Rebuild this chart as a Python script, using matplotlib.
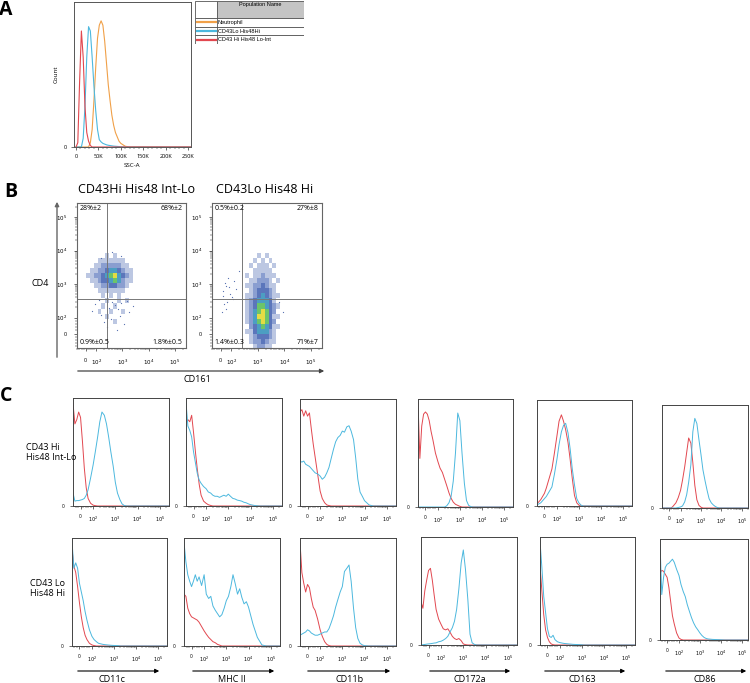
import matplotlib
matplotlib.use('Agg')
import numpy as np
import matplotlib.pyplot as plt
from matplotlib.colors import ListedColormap
from matplotlib.patches import Rectangle, FancyArrowPatch

plt.rcParams['font.family'] = ['Open Sans', 'DejaVu Sans']

# ---------------- data ----------------
# panel A: SSC-A histograms (x in thousands)
ssc_k = [0, 4, 8, 12, 16, 20, 24, 28, 32, 36, 40, 44, 48, 52, 56, 60, 64, 68, 72, 76,
         80, 84, 88, 92, 96, 100, 105, 110, 120, 262]
ssc_neutrophil = [0, 0, 0, 0, 0, 0, 0, 0, 0.03, 0.12, 0.32, 0.55, 0.75, 0.84, 0.87, 0.84, 0.73, 0.58, 0.43, 0.32,
                  0.22, 0.15, 0.10, 0.07, 0.04, 0.025, 0.015, 0.005, 0, 0]
ssc_cd43lo = [0, 0, 0, 0, 0.06, 0.28, 0.62, 0.83, 0.80, 0.62, 0.42, 0.25, 0.12, 0.05, 0.035, 0.025, 0.02, 0.015, 0.012, 0.01,
              0.008, 0.006, 0.005, 0.004, 0.003, 0.002, 0.001, 0, 0, 0]
ssc_cd43hi = [0, 0.03, 0.45, 0.80, 0.62, 0.28, 0.10, 0.04, 0.01, 0, 0, 0, 0, 0, 0, 0, 0, 0, 0, 0,
              0, 0, 0, 0, 0, 0, 0, 0, 0, 0]
populations = ['Neutrophil', 'CD43Lo His48Hi', 'CD43 Hi His48 Lo-Int']

# panel B: CD161 vs CD4 density (counts level per cell), rows listed top to bottom
left_x_edges = [0, 37, 75, 112, 158, 224, 316, 447, 631, 891, 1259, 1778, 2512, 3548]
left_y_edges = [11749, 8318, 5888, 4169, 2951, 2089, 1479, 1047, 741, 525, 372, 263, 186, 132, 94, 62]
left_density = [
    [0, 0, 0, 0, 0, 0, 0, 0, 0, 0, 0, 0, 0],
    [0, 0, 0, 0, 0, 1, 0, 1, 0, 0, 0, 0, 0],
    [0, 0, 0, 1, 1, 1, 1, 1, 1, 1, 0, 0, 0],
    [0, 0, 1, 1, 2, 2, 2, 2, 2, 1, 1, 0, 0],
    [0, 1, 1, 2, 2, 3, 4, 4, 3, 2, 1, 1, 0],
    [1, 1, 2, 2, 3, 4, 5, 6, 4, 3, 2, 1, 0],
    [0, 1, 1, 2, 3, 3, 4, 5, 4, 2, 1, 1, 0],
    [0, 0, 1, 1, 2, 2, 3, 3, 2, 2, 1, 0, 0],
    [0, 0, 0, 1, 1, 1, 1, 1, 1, 1, 0, 0, 0],
    [0, 0, 0, 0, 1, 0, 1, 0, 1, 0, 0, 0, 0],
    [0, 0, 0, 0, 0, 1, 0, 0, 1, 0, 1, 0, 0],
    [0, 0, 0, 0, 1, 0, 0, 1, 0, 0, 0, 0, 0],
    [0, 0, 0, 1, 0, 0, 1, 0, 0, 1, 0, 0, 0],
    [0, 0, 0, 0, 0, 1, 0, 0, 0, 0, 0, 0, 0],
    [0, 0, 0, 0, 0, 0, 0, 1, 0, 0, 0, 0, 0],
]
left_dots_x = [90, 150, 400, 700, 1100, 260, 520, 1800, 130, 350, 900, 2500, 60, 620, 300, 1500, 200, 800, 400, 900, 150]
left_dots_y = [250, 120, 300, 180, 60, 40, 240, 150, 330, 90, 280, 220, 160, 20, 190, 320, 70, 110, 9000, 7000, 6000]

right_x_edges = [316, 447, 631, 891, 1259, 1778, 2512, 3548, 5012, 7079]
right_y_edges = [8318, 5888, 4169, 2951, 2089, 1479, 1047, 741, 525, 372, 263, 186, 132, 94, 62, 31, 0, -31, -62, -94]
right_density = [
    [0, 0, 0, 1, 0, 1, 0, 0, 0],
    [0, 0, 1, 0, 1, 0, 1, 0, 0],
    [0, 1, 0, 1, 1, 1, 0, 1, 0],
    [0, 0, 1, 1, 1, 1, 1, 0, 0],
    [1, 0, 1, 1, 2, 1, 1, 1, 0],
    [0, 1, 1, 2, 2, 2, 1, 0, 1],
    [1, 1, 2, 2, 3, 2, 1, 1, 0],
    [0, 1, 2, 3, 3, 3, 2, 1, 0],
    [1, 1, 2, 3, 4, 3, 2, 1, 1],
    [1, 2, 3, 4, 4, 4, 3, 1, 0],
    [1, 2, 3, 5, 5, 4, 3, 2, 1],
    [1, 2, 4, 5, 6, 5, 3, 2, 0],
    [1, 2, 4, 6, 6, 5, 3, 1, 1],
    [1, 2, 4, 5, 6, 5, 3, 2, 0],
    [0, 2, 3, 4, 5, 4, 3, 1, 1],
    [1, 1, 3, 4, 4, 4, 2, 1, 0],
    [0, 1, 2, 3, 3, 3, 2, 1, 0],
    [0, 1, 2, 2, 3, 2, 1, 1, 0],
    [0, 0, 1, 2, 2, 1, 1, 0, 0],
]
right_dots_x = [20, 45, 60, 90, 130, 30, 150, 70, 110, 50, 40, 80, 120, 25, 10, 6000, 9000, 200]
right_dots_y = [600, 900, 300, 500, 1200, 250, 700, 1500, 400, 180, 1100, 800, 350, 450, 150, 300, 150, 2500]

left_quadrants = ['28%±2', '68%±2', '0.9%±0.5', '1.8%±0.5']
right_quadrants = ['0.5%±0.2', '27%±8', '1.4%±0.3', '71%±7']

# panel C: histograms on a shared fluorescence grid, mode-normalised
fl_grid = [-60, -45, -30, -15, 0, 15, 30, 45, 60, 80, 100, 125, 160, 200, 250, 320, 400, 500, 630, 800,
           1000, 1250, 1600, 2000, 2500, 3200, 4000, 5000, 6300, 8000, 10000, 16000, 25000, 40000, 63000,
           100000, 160000, 260000]
markers = ['CD11c', 'MHC II', 'CD11b', 'CD172a', 'CD163', 'CD86']

cd11c_hi_red = [0.95, 0.76, 0.80, 0.87, 0.82, 0.60, 0.35, 0.17, 0.07, 0.025,
                0.008, 0.003, 0, 0, 0, 0, 0, 0, 0, 0,
                0, 0, 0, 0, 0, 0, 0, 0, 0, 0, 0, 0, 0, 0, 0, 0, 0, 0]
cd11c_hi_blue = [0.12, 0.045, 0.05, 0.05, 0.055, 0.06, 0.07, 0.10, 0.15, 0.26,
                 0.38, 0.50, 0.64, 0.78, 0.87, 0.84, 0.76, 0.64, 0.50, 0.37,
                 0.22, 0.12, 0.06, 0.02, 0.005, 0, 0, 0, 0, 0, 0, 0, 0, 0, 0, 0, 0, 0]
mhc_hi_red = [0.78, 0.80, 0.78, 0.84, 0.68, 0.50, 0.34, 0.20, 0.10, 0.045,
              0.025, 0.012, 0.005, 0, 0, 0, 0, 0, 0, 0,
              0, 0, 0, 0, 0, 0, 0, 0, 0, 0, 0, 0, 0, 0, 0, 0, 0, 0]
mhc_hi_blue = [0.96, 0.74, 0.70, 0.64, 0.50, 0.40, 0.30, 0.24, 0.21, 0.18,
               0.16, 0.13, 0.12, 0.10, 0.09, 0.09, 0.08, 0.09, 0.10, 0.09,
               0.11, 0.09, 0.07, 0.065, 0.055, 0.05, 0.045, 0.035, 0.03, 0.02,
               0.012, 0.004, 0, 0, 0, 0, 0, 0]
cd11b_hi_red = [0.88, 0.90, 0.84, 0.89, 0.84, 0.87, 0.72, 0.58, 0.46, 0.30,
                0.14, 0.07, 0.03, 0.01, 0.004, 0, 0, 0, 0, 0,
                0, 0, 0, 0, 0, 0, 0, 0, 0, 0, 0, 0, 0, 0, 0, 0, 0, 0]
cd11b_hi_blue = [0.42, 0.41, 0.42, 0.39, 0.38, 0.37, 0.35, 0.33, 0.31, 0.30,
                 0.28, 0.25, 0.27, 0.31, 0.36, 0.45, 0.53, 0.60, 0.64, 0.66,
                 0.70, 0.69, 0.74, 0.75, 0.70, 0.62, 0.45, 0.25, 0.13, 0.09,
                 0.05, 0.01, 0, 0, 0, 0, 0, 0]
cd172a_hi_red = [0.97, 0.45, 0.75, 0.86, 0.88, 0.86, 0.80, 0.70, 0.62, 0.50,
                 0.42, 0.36, 0.32, 0.26, 0.20, 0.13, 0.08, 0.045, 0.025, 0.015,
                 0.006, 0, 0, 0, 0, 0, 0, 0, 0, 0, 0, 0, 0, 0, 0, 0, 0, 0]
cd172a_hi_blue = [0, 0, 0, 0, 0, 0, 0, 0, 0, 0,
                  0, 0, 0, 0, 0.01, 0.04, 0.10, 0.24, 0.50, 0.87,
                  0.80, 0.50, 0.22, 0.06, 0.015, 0.003, 0, 0, 0, 0, 0, 0, 0, 0, 0, 0, 0, 0]
cd163_hi_red = [0.02, 0.04, 0.06, 0.09, 0.12, 0.17, 0.23, 0.29, 0.35, 0.50,
                0.66, 0.80, 0.86, 0.80, 0.72, 0.60, 0.44, 0.26, 0.10, 0.03,
                0.008, 0, 0, 0, 0, 0, 0, 0, 0, 0, 0, 0, 0, 0, 0, 0, 0, 0]
cd163_hi_blue = [0.01, 0.02, 0.03, 0.05, 0.07, 0.09, 0.12, 0.15, 0.18, 0.30,
                 0.44, 0.58, 0.70, 0.76, 0.78, 0.69, 0.54, 0.35, 0.20, 0.07,
                 0.03, 0.008, 0, 0, 0, 0, 0, 0, 0, 0, 0, 0, 0, 0, 0, 0, 0, 0]
cd86_hi_red = [0, 0, 0, 0, 0, 0, 0.01, 0.03, 0.05, 0.10,
               0.17, 0.27, 0.40, 0.54, 0.68, 0.63, 0.44, 0.22, 0.08, 0.025,
               0.008, 0, 0, 0, 0, 0, 0, 0, 0, 0, 0, 0, 0, 0, 0, 0, 0, 0]
cd86_hi_blue = [0, 0, 0, 0, 0, 0, 0, 0, 0, 0.005,
                0.01, 0.02, 0.06, 0.13, 0.25, 0.42, 0.74, 0.87, 0.82, 0.66,
                0.52, 0.37, 0.26, 0.17, 0.09, 0.05, 0.03, 0.015, 0.005, 0,
                0, 0, 0, 0, 0, 0, 0, 0]

cd11c_lo_red = [0.90, 0.74, 0.68, 0.55, 0.40, 0.27, 0.17, 0.10, 0.06, 0.025,
                0.01, 0.004, 0, 0, 0, 0, 0, 0, 0, 0,
                0, 0, 0, 0, 0, 0, 0, 0, 0, 0, 0, 0, 0, 0, 0, 0, 0, 0]
cd11c_lo_blue = [0.97, 0.72, 0.77, 0.72, 0.58, 0.50, 0.42, 0.32, 0.24, 0.15,
                 0.09, 0.06, 0.04, 0.025, 0.02, 0.015, 0.012, 0.01, 0.008, 0.006,
                 0.005, 0.004, 0.003, 0, 0, 0, 0, 0, 0, 0, 0, 0, 0, 0, 0, 0, 0, 0]
mhc_lo_red = [0.48, 0.46, 0.35, 0.30, 0.27, 0.26, 0.25, 0.24, 0.22, 0.18,
              0.14, 0.11, 0.08, 0.06, 0.04, 0.03, 0.015, 0.008, 0, 0,
              0, 0, 0, 0, 0, 0, 0, 0, 0, 0, 0, 0, 0, 0, 0, 0, 0, 0]
mhc_lo_blue = [0.96, 0.78, 0.66, 0.60, 0.55, 0.60, 0.66, 0.60, 0.64, 0.56,
               0.66, 0.48, 0.44, 0.46, 0.37, 0.33, 0.30, 0.27, 0.29, 0.35,
               0.42, 0.46, 0.55, 0.66, 0.58, 0.48, 0.53, 0.45, 0.39, 0.41,
               0.36, 0.20, 0.08, 0.01, 0, 0, 0, 0]
cd11b_lo_red = [0.96, 0.68, 0.58, 0.50, 0.57, 0.54, 0.44, 0.36, 0.33, 0.25,
                0.15, 0.09, 0.04, 0.015, 0.004, 0, 0, 0, 0, 0,
                0, 0, 0, 0, 0, 0, 0, 0, 0, 0, 0, 0, 0, 0, 0, 0, 0, 0]
cd11b_lo_blue = [0.10, 0.11, 0.12, 0.13, 0.15, 0.14, 0.12, 0.11, 0.10, 0.10,
                 0.11, 0.12, 0.13, 0.13, 0.16, 0.22, 0.28, 0.36, 0.43, 0.50,
                 0.55, 0.69, 0.72, 0.75, 0.60, 0.35, 0.17, 0.07, 0.025, 0.01,
                 0.003, 0, 0, 0, 0, 0, 0, 0]
cd172a_lo_red = [0.40, 0.34, 0.50, 0.60, 0.69, 0.71, 0.60, 0.46, 0.33, 0.24,
                 0.19, 0.15, 0.14, 0.15, 0.12, 0.08, 0.06, 0.05, 0.06, 0.04,
                 0.01, 0.003, 0, 0, 0, 0, 0, 0, 0, 0, 0, 0, 0, 0, 0, 0, 0, 0]
cd172a_lo_blue = [0, 0.003, 0.005, 0.008, 0.01, 0.012, 0.015, 0.018, 0.02, 0.03,
                  0.035, 0.045, 0.06, 0.08, 0.12, 0.16, 0.22, 0.33, 0.52, 0.76,
                  0.88, 0.70, 0.42, 0.10, 0.02, 0.005, 0, 0, 0, 0, 0, 0, 0, 0, 0, 0, 0, 0]
cd163_lo_red = [0.74, 0.50, 0.28, 0.14, 0.07, 0.03, 0.01, 0.003, 0, 0,
                0, 0, 0, 0, 0, 0, 0, 0, 0, 0,
                0, 0, 0, 0, 0, 0, 0, 0, 0, 0, 0, 0, 0, 0, 0, 0, 0, 0]
cd163_lo_blue = [0.96, 0.72, 0.45, 0.30, 0.15, 0.08, 0.07, 0.09, 0.05, 0.03,
                 0.022, 0.018, 0.014, 0.012, 0.01, 0.008, 0.006, 0.005, 0.004, 0.003,
                 0.002, 0, 0, 0, 0, 0, 0, 0, 0, 0, 0, 0, 0, 0, 0, 0, 0, 0]
cd86_lo_red = [0.66, 0.69, 0.68, 0.65, 0.62, 0.52, 0.38, 0.24, 0.16, 0.07,
               0.02, 0.006, 0, 0, 0, 0, 0, 0, 0, 0,
               0, 0, 0, 0, 0, 0, 0, 0, 0, 0, 0, 0, 0, 0, 0, 0, 0, 0]
cd86_lo_blue = [0.96, 0.45, 0.62, 0.72, 0.75, 0.76, 0.78, 0.80, 0.77, 0.70,
                0.64, 0.55, 0.48, 0.43, 0.35, 0.28, 0.22, 0.17, 0.13, 0.10,
                0.07, 0.045, 0.025, 0.015, 0.01, 0.008, 0.006, 0.005, 0.004, 0.003,
                0.002, 0, 0, 0, 0, 0, 0, 0]

hi_curves = [(cd11c_hi_red, cd11c_hi_blue), (mhc_hi_red, mhc_hi_blue), (cd11b_hi_red, cd11b_hi_blue),
             (cd172a_hi_red, cd172a_hi_blue), (cd163_hi_red, cd163_hi_blue), (cd86_hi_red, cd86_hi_blue)]
lo_curves = [(cd11c_lo_red, cd11c_lo_blue), (mhc_lo_red, mhc_lo_blue), (cd11b_lo_red, cd11b_lo_blue),
             (cd172a_lo_red, cd172a_lo_blue), (cd163_lo_red, cd163_lo_blue), (cd86_lo_red, cd86_lo_blue)]

RED = '#e2474f'
BLUE = '#4cb8de'
ORANGE = '#f0a048'

# ---------------- layout helpers (pixel boxes) ----------------
W, H = 750, 683
fig = plt.figure(figsize=(7.5, 6.83), dpi=100)


def box(x0, y0, x1, y1):
    return fig.add_axes([x0 / W, 1 - y1 / H, (x1 - x0) / W, (y1 - y0) / H])


def ftext(x, y, s, **kw):
    fig.text(x / W, 1 - y / H, s, **kw)


def arrow(x0, y0, x1, y1, color='k', lw=0.8):
    fig.add_artist(FancyArrowPatch((x0 / W, 1 - y0 / H), (x1 / W, 1 - y1 / H), transform=fig.transFigure,
                                   arrowstyle='-|>', mutation_scale=6, lw=lw, color=color))


def style_spines(ax, color='#555555', lw=0.7):
    for s in ax.spines.values():
        s.set_linewidth(lw)
        s.set_color(color)


log_minor = [200, 300, 400, 500, 600, 700, 800, 900, 2000, 3000, 4000, 5000, 6000, 7000, 8000, 9000,
             20000, 30000, 40000, 50000, 60000, 70000, 80000, 90000, 200000]
lin_minor = [-80, -60, -40, -20, 20, 40, 60, 80]
decade_ticks = [0, 100, 1000, 10000, 100000]
decade_labels = ['0', '$10^2$', '$10^3$', '$10^4$', '$10^5$']

# ---------------- panel A ----------------
ftext(6, 10, 'A', fontsize=14, fontweight='bold', ha='center', va='center')
axA = box(74, 2, 191, 147)
axA.plot(ssc_k, ssc_neutrophil, color=ORANGE, lw=0.8)
axA.plot(ssc_k, ssc_cd43lo, color=BLUE, lw=0.8)
axA.plot(ssc_k, ssc_cd43hi, color=RED, lw=0.8)
axA.set_xlim(-4.5, 256.7)
axA.set_ylim(0, 1)
axA.set_xticks([0, 50, 100, 150, 200, 250])
axA.set_xticklabels(['0', '50K', '100K', '150K', '200K', '250K'])
axA.set_xticks(range(10, 260, 10), minor=True)
axA.set_yticks([0])
axA.tick_params(labelsize=4, length=2, width=0.4, pad=3)
axA.tick_params(which='minor', length=1.2, width=0.3)
axA.set_xlabel('SSC-A', fontsize=4.5, labelpad=3)
axA.set_ylabel('Count', fontsize=4.5, labelpad=4)
style_spines(axA)

# legend table
axL = box(195, 1, 304, 44)
axL.set_xlim(0, 109)
axL.set_ylim(43, 0)
axL.axis('off')
axL.add_patch(Rectangle((22, 0), 87, 17, facecolor='#c4c4c4', edgecolor='#555555', lw=0.6))
axL.add_patch(Rectangle((0, 0), 22, 17, facecolor='white', edgecolor='#555555', lw=0.6))
axL.text(65, 3.5, 'Population Name', fontsize=4, ha='center', va='center', family='Liberation Sans')
row_colors = [ORANGE, BLUE, RED]
for i, name in enumerate(populations):
    top = 17 + i * 8.67
    axL.add_patch(Rectangle((0, top), 109, 8.67, facecolor='white', edgecolor='#555555', lw=0.6))
    axL.plot([0.5, 21.5], [top + 4.3, top + 4.3], color=row_colors[i], lw=1.6, solid_capstyle='butt')
    axL.plot([22, 22], [top, top + 8.67], color='#555555', lw=0.6)
    axL.text(23, top + 4.4, name, fontsize=4, va='center', family='Liberation Sans')

# ---------------- panel B ----------------
ftext(11, 192, 'B', fontsize=14, fontweight='bold', ha='center', va='center')
ftext(136, 190, 'CD43Hi His48 Int-Lo', fontsize=9, ha='center', va='center')
ftext(265, 190, 'CD43Lo His48 Hi', fontsize=9, ha='center', va='center')
ftext(40, 283, 'CD4', fontsize=6.5, ha='center', va='center')
ftext(197, 379, 'CD161', fontsize=6.5, ha='center', va='center')
arrow(57, 360, 57, 199, color='#666666', lw=1.0)
arrow(75, 371, 327, 371, color='#444444', lw=0.9)

dens_cmap = ListedColormap(['#bcc7e2', '#8a9ed0', '#5b76bb', '#4c9ec2', '#6cc46a', '#e4dc44'])

scatter_panels = [
    (box(77, 203, 186, 348), left_x_edges, left_y_edges, left_density, left_dots_x, left_dots_y, 355, left_quadrants),
    (box(212, 203, 322, 348), right_x_edges, right_y_edges, right_density, right_dots_x, right_dots_y, 370, right_quadrants),
]
for ax, xe, ye, dens, dx, dy, gate_y, quads in scatter_panels:
    ax.set_xscale('symlog', linthresh=100, linscale=0.36)
    ax.set_yscale('symlog', linthresh=100, linscale=0.43)
    dm = np.ma.masked_equal(np.array(dens), 0)
    ax.pcolormesh(xe, ye, dm, cmap=dens_cmap, vmin=0.5, vmax=6.5, shading='flat', rasterized=True)
    ax.scatter(dx, dy, s=0.8, color='#5570b0', linewidths=0)
    ax.set_xlim(-83, 262143)
    ax.set_ylim(-90, 262143)
    ax.axvline(260, color='#777777', lw=0.7)
    ax.axhline(gate_y, color='#777777', lw=0.7)
    ax.set_xticks(decade_ticks)
    ax.set_xticklabels(decade_labels)
    ax.set_yticks(decade_ticks)
    ax.set_yticklabels(decade_labels)
    ax.set_xticks(lin_minor + log_minor, minor=True)
    ax.set_yticks(lin_minor + log_minor, minor=True)
    ax.tick_params(labelsize=4, length=2, width=0.4, pad=5)
    ax.tick_params(which='minor', length=1.2, width=0.3)
    style_spines(ax, '#666666', 0.8)
    ax.text(0.02, 0.985, quads[0], transform=ax.transAxes, fontsize=5, va='top', ha='left')
    ax.text(0.97, 0.985, quads[1], transform=ax.transAxes, fontsize=5, va='top', ha='right')
    ax.text(0.02, 0.015, quads[2], transform=ax.transAxes, fontsize=5, va='bottom', ha='left')
    ax.text(0.97, 0.015, quads[3], transform=ax.transAxes, fontsize=5, va='bottom', ha='right')

# ---------------- panel C ----------------
ftext(6, 396, 'C', fontsize=14, fontweight='bold', ha='center', va='center')
ftext(26, 447, 'CD43 Hi', fontsize=6.5, ha='left', va='center')
ftext(26, 457, 'His48 Int-Lo', fontsize=6.5, ha='left', va='center')
ftext(30, 583, 'CD43 Lo', fontsize=6.5, ha='left', va='center')
ftext(30, 594, 'His48 Hi', fontsize=6.5, ha='left', va='center')

row1_boxes = [(73, 398, 169, 506), (186, 398, 282, 506), (300, 399, 396, 506),
              (418, 399, 513, 507), (537, 400, 632, 506), (662, 405, 748, 508)]
row2_boxes = [(72, 538, 167, 646), (184, 538, 280, 646), (300, 538, 396, 646),
              (421, 537, 517, 645), (540, 537, 635, 645), (660, 539, 748, 640)]
arrow_spans = [(75, 162), (190, 277), (305, 393), (427, 513), (542, 628), (663, 749)]
label_x = [112, 232, 350, 470, 582, 705]

for col in range(6):
    for boxes, curves in ((row1_boxes, hi_curves), (row2_boxes, lo_curves)):
        ax = box(*boxes[col])
        red, blue = curves[col]
        ax.set_xscale('symlog', linthresh=100, linscale=0.51)
        ax.plot(fl_grid, red, color=RED, lw=0.7)
        ax.plot(fl_grid, blue, color=BLUE, lw=0.7)
        ax.set_xlim(-60, 175000 if col == 5 else 262143)
        ax.set_ylim(0, 1)
        ax.set_xticks(decade_ticks)
        ax.set_xticklabels(decade_labels)
        ax.set_xticks(lin_minor[2:] + log_minor, minor=True)
        ax.set_yticks([0])
        ax.tick_params(labelsize=3.5, length=2, width=0.4, pad=4)
        ax.tick_params(which='minor', length=1.2, width=0.3)
        style_spines(ax, '#444444', 0.7)
    x0, x1 = arrow_spans[col]
    arrow(x0, 671, x1, 671, color='k', lw=0.8)
    ftext(label_x[col], 680, markers[col], fontsize=6.5, ha='center', va='center')

fig.savefig('out.png', dpi=100)
